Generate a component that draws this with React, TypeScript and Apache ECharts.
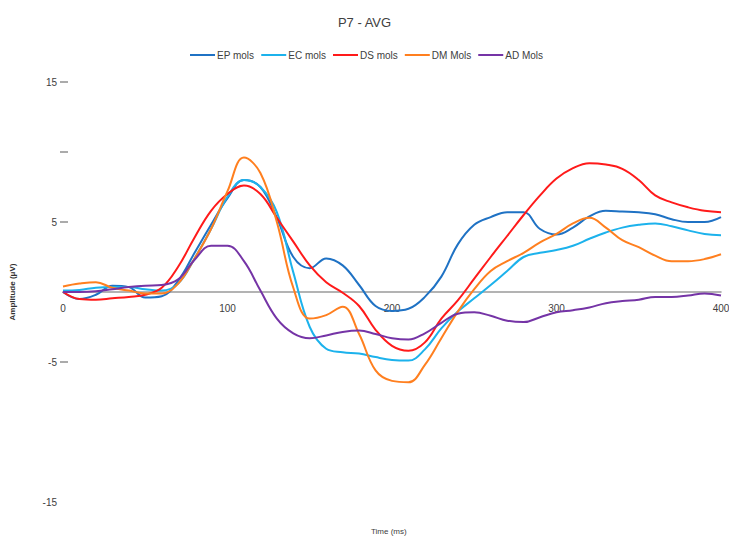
import React, { useEffect, useRef } from "react";
import * as echarts from "echarts";

const time = [0, 10, 20, 30, 40, 50, 60, 70, 80, 90, 100, 110, 120, 130, 140, 150, 160, 170, 180, 190, 200, 210, 220, 230, 240, 250, 260, 270, 280, 290, 300, 310, 320, 330, 340, 350, 360, 370, 380, 390, 400];

const epMols = [0, -0.5, -0.2, 0.45, 0.35, -0.4, -0.3, 0.8, 2.8, 4.8, 6.7, 8.0, 7.5, 5.3, 2.5, 1.7, 2.4, 1.9, 0.5, -1.0, -1.35, -1.2, -0.35, 1.1, 3.4, 4.8, 5.35, 5.7, 5.7, 4.5, 4.1, 4.6, 5.4, 5.8, 5.75, 5.7, 5.55, 5.2, 5.0, 5.0, 5.35];
const ecMols = [0.1, 0.15, 0.3, 0.35, 0.35, 0.2, 0.1, 0.6, 2.4, 4.5, 6.8, 8.0, 7.5, 5.7, 1.4, -2.5, -4.05, -4.3, -4.4, -4.65, -4.85, -4.9, -4.1, -2.6, -1.4, -0.45, 0.5, 1.5, 2.5, 2.8, 3.0, 3.3, 3.8, 4.25, 4.6, 4.8, 4.9, 4.7, 4.4, 4.15, 4.05];
const dsMols = [0, -0.5, -0.55, -0.45, -0.35, -0.2, 0.3, 1.8, 3.9, 5.8, 7.0, 7.6, 7.0, 5.3, 3.6, 1.9, 0.7, -0.05, -1.0, -2.7, -3.85, -4.2, -3.6, -1.9, -0.6, 0.95, 2.5, 4.0, 5.5, 6.9, 8.1, 8.85, 9.2, 9.1, 8.8, 8.0, 6.9, 6.4, 6.05, 5.8, 5.7];
const dmMols = [0.4, 0.6, 0.7, 0.3, 0.1, -0.1, -0.1, 0.6, 2.4, 4.5, 7.2, 9.6, 8.5, 5.0, 0.3, -1.9, -1.65, -1.05, -3.0, -5.6, -6.35, -6.45, -5.2, -3.3, -1.4, 0.2, 1.5, 2.2, 2.8, 3.55, 4.15, 4.9, 5.3, 4.6, 3.7, 3.2, 2.6, 2.2, 2.2, 2.35, 2.7];
const adMols = [0, 0, 0.05, 0.2, 0.35, 0.45, 0.5, 0.9, 2.3, 3.3, 3.3, 2.2, 0.1, -1.9, -2.95, -3.3, -3.1, -2.85, -2.75, -3.0, -3.3, -3.4, -2.95, -2.2, -1.55, -1.45, -1.7, -2.05, -2.15, -1.8, -1.45, -1.3, -1.1, -0.8, -0.65, -0.55, -0.35, -0.35, -0.25, -0.1, -0.25];

const seriesNames = ["EP mols", "EC mols", "DS mols", "DM Mols", "AD Mols"];
const seriesValues = [epMols, ecMols, dsMols, dmMols, adMols];
const seriesColors = ["#1f72c4", "#1cb2ec", "#ff1a1a", "#ff7f1f", "#7534a6"];

const yLabelText: Record<string, string> = {
  "15": "{v|15}{g| }{t| }",
  "10": "{t| }",
  "5": "{v|5}{g| }{t| }",
  "0": "",
  "-5": "{v|-5}{g| }{t| }",
  "-10": "",
  "-15": "{v|-15}{g| }{h| }",
};

const FONT = "Liberation Sans, Arial, sans-serif";

export default function App() {
  const ref = useRef<HTMLDivElement>(null);
  useEffect(() => {
    if (!ref.current) return;
    const chart = echarts.init(ref.current, null, { renderer: "svg" });
    chart.setOption({
      animation: false,
      backgroundColor: "#ffffff",
      textStyle: { fontFamily: FONT },
      title: [
        {
          text: "P7 - AVG",
          left: "center",
          top: 11,
          textStyle: { fontSize: 13, fontWeight: "normal", color: "#404040", fontFamily: FONT },
        },
        {
          text: "Time (ms)",
          left: 366,
          top: 522,
          textStyle: { fontSize: 8, fontWeight: "normal", color: "#404040", fontFamily: FONT },
        },
      ],
      legend: {
        top: 45,
        left: 185,
        icon: "rect",
        itemWidth: 25,
        itemHeight: 2,
        itemGap: 7,
        textStyle: { fontSize: 10, color: "#404040", fontFamily: FONT, padding: [0, 0, 0, -3] },
        data: seriesNames,
      },
      grid: { left: 63, right: 8, top: 82, bottom: 34, containLabel: false, outerBoundsMode: "none" },
      xAxis: {
        type: "value",
        min: 0,
        max: 400,
        interval: 100,
        axisLine: { onZero: true, lineStyle: { color: "#9a9a9a", width: 1.5 } },
        axisTick: { show: false },
        splitLine: { show: false },
        axisLabel: { margin: -199, fontSize: 10, color: "#404040", fontFamily: FONT },
      },
      yAxis: {
        type: "value",
        min: -15,
        max: 15,
        interval: 5,
        name: "Amplitude (μV)",
        nameLocation: "middle",
        nameRotate: 90,
        nameGap: 47,
        nameTextStyle: { fontSize: 8, color: "#303030", fontWeight: "bold", fontFamily: FONT },
        axisLine: { show: false },
        axisTick: { show: false },
        splitLine: { show: false },
        axisLabel: {
          margin: -5,
          formatter: (v: number) => yLabelText[String(v)] ?? "",
          rich: {
            v: { fontSize: 10, color: "#404040", fontFamily: FONT },
            g: { fontSize: 10, width: 3 },
            t: { fontSize: 2, width: 8, height: 1.5, backgroundColor: "#8f8f8f" },
            h: { fontSize: 2, width: 8, height: 1.5 },
          },
        },
      },
      series: seriesNames.map((name, i) => ({
        name,
        type: "line",
        smooth: 0.4,
        symbol: "none",
        data: time.map((t, j) => [t, seriesValues[i][j]]),
        lineStyle: { width: 2, color: seriesColors[i] },
        itemStyle: { color: seriesColors[i] },
      })),
    });
    return () => chart.dispose();
  }, []);
  return <div ref={ref} style={{ position: "fixed", left: 0, top: 0, width: 729, height: 536 }} />;
}
